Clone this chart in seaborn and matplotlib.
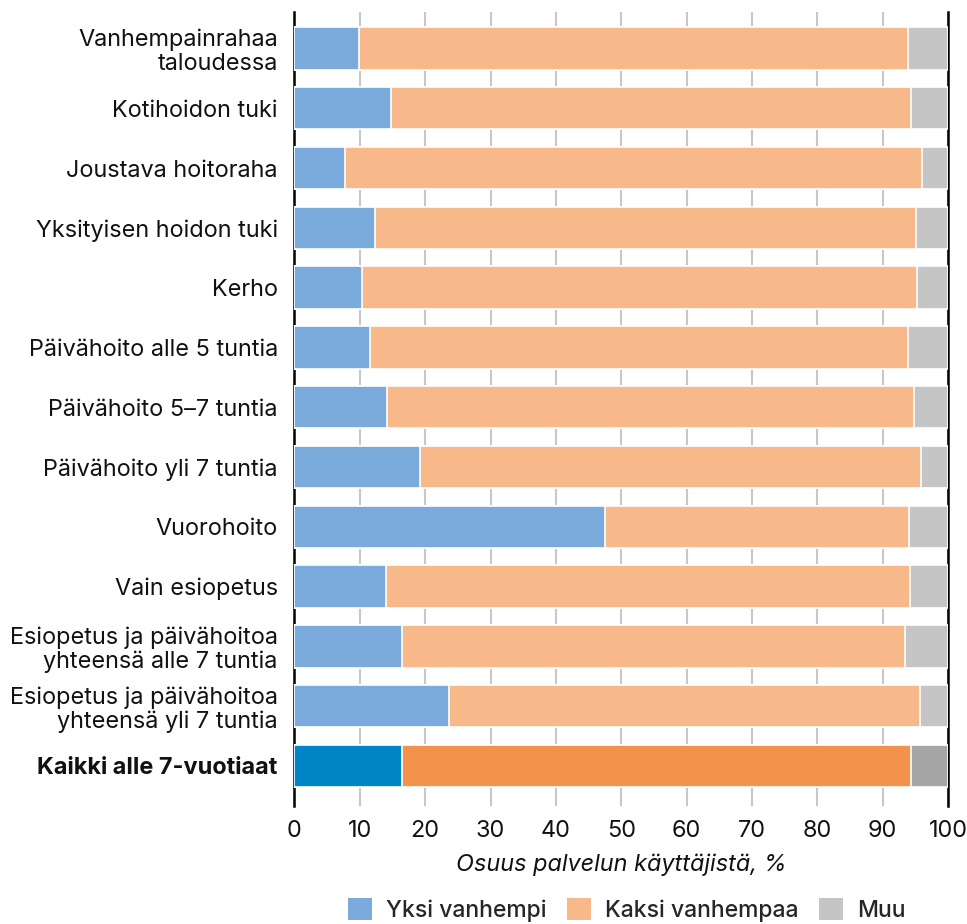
import matplotlib
matplotlib.use("Agg")
import matplotlib.pyplot as plt
import seaborn as sns
import pandas as pd
import numpy as np
from matplotlib.patches import Patch

categories = [
    "Vanhempainrahaa\ntaloudessa",
    "Kotihoidon tuki",
    "Joustava hoitoraha",
    "Yksityisen hoidon tuki",
    "Kerho",
    "Päivähoito alle 5 tuntia",
    "Päivähoito 5–7 tuntia",
    "Päivähoito yli 7 tuntia",
    "Vuorohoito",
    "Vain esiopetus",
    "Esiopetus ja päivähoitoa\nyhteensä alle 7 tuntia",
    "Esiopetus ja päivähoitoa\nyhteensä yli 7 tuntia",
    "Kaikki alle 7-vuotiaat",
]
yksi = [9.9, 14.8, 7.7, 12.4, 10.4, 11.6, 14.2, 19.2, 47.5, 14.0, 16.5, 23.6, 16.5]
kaksi = [84.0, 79.6, 88.3, 82.7, 84.8, 82.3, 80.6, 76.7, 46.5, 80.2, 76.9, 72.1, 77.8]
muu = [6.1, 5.6, 4.0, 4.9, 4.8, 6.1, 5.2, 4.1, 6.0, 5.8, 6.6, 4.3, 5.7]
series_labels = ["Yksi vanhempi", "Kaksi vanhempaa", "Muu"]
xticks = [0, 10, 20, 30, 40, 50, 60, 70, 80, 90, 100]
xlabel = "Osuus palvelun käyttäjistä, %"

light = ["#7aabdc", "#f7b98a", "#c5c5c5"]
dark = ["#0285c7", "#f2924b", "#a6a6a6"]

sns.set_theme(style="white")
plt.rcParams["font.family"] = ["Inter", "DejaVu Sans"]

df = pd.DataFrame({"cat": categories, "yksi": yksi, "kaksi": kaksi, "muu": muu})
df["c1"] = df["yksi"]
df["c2"] = df["yksi"] + df["kaksi"]
df["c3"] = df["yksi"] + df["kaksi"] + df["muu"]

fig = plt.figure(figsize=(9.67, 9.24), dpi=100)
ax = fig.add_axes([0.3045, 0.1277, 0.6758, 0.8593])

n = len(categories)
for col, idx in [("c3", 2), ("c2", 1), ("c1", 0)]:
    pal = [light[idx]] * (n - 1) + [dark[idx]]
    sns.barplot(data=df, x=col, y="cat", hue="cat", palette=pal, legend=False,
                orient="h", width=0.71, edgecolor="white", linewidth=1.2,
                saturation=1, ax=ax, zorder=3)

ax.set_xlim(0, 100)
ax.set_ylim(n - 1 + 0.67, -0.61)
ax.set_xticks(xticks)
ax.set_xticklabels([str(t) for t in xticks])
ax.grid(axis="x", color="#c8c8c8", linewidth=1.5, zorder=0)
ax.grid(axis="y", visible=False)
ax.set_axisbelow(True)
for s in ["top", "bottom"]:
    ax.spines[s].set_visible(False)
for s in ["left", "right"]:
    ax.spines[s].set_visible(True)
    ax.spines[s].set_color("black")
    ax.spines[s].set_linewidth(1.8)

ax.tick_params(axis="y", length=0, pad=12, labelsize=16.9, labelcolor="#111111")
ax.tick_params(axis="x", length=0, pad=10, labelsize=16.9, labelcolor="#111111")
for lab in ax.get_yticklabels():
    lab.set_horizontalalignment("right")
    lab.set_multialignment("right")
    lab.set_linespacing(1.12)
ax.get_yticklabels()[-1].set_fontweight("bold")
ax.set_ylabel("")
ax.set_xlabel(xlabel, fontsize=16.9, style="italic", labelpad=8, color="#111111")

handles = [Patch(facecolor=c, edgecolor="none") for c in light]
fig.legend(handles, series_labels, loc="center", bbox_to_anchor=(0.648, 0.015),
           ncol=3, frameon=False, fontsize=16.5, handlelength=1.05, handleheight=1.05,
           handletextpad=0.6, columnspacing=0.9, borderpad=0,
           prop={"weight": "medium", "size": 16.5})

fig.savefig("out.png", dpi=100)
